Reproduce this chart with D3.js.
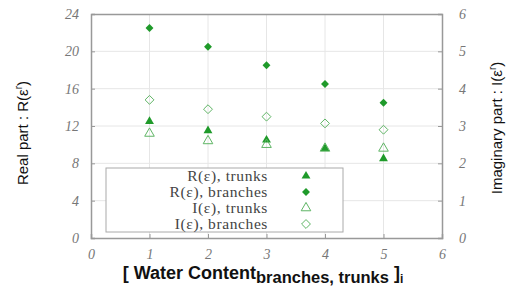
<!DOCTYPE html>
<html>
<head>
<meta charset="utf-8">
<script src="https://cdn.jsdelivr.net/npm/d3@7"></script>
<style>
  body { margin: 0; background: #fff; }
  .tick text { font-family: "Liberation Serif", serif; font-style: italic; fill: #777; font-size: 14px; }
  .title { font-family: "Liberation Sans", Arial, sans-serif; fill: #111; }
  .leg { font-family: "Liberation Serif", serif; font-size: 15.5px; letter-spacing: 0.6px; fill: #444; }
</style>
</head>
<body>
<script>
(function(){

    var water = [1, 2, 3, 4, 5];
    var realTrunks = [12.5, 11.5, 10.5, 9.6, 8.5];
    var realBranches = [22.5, 20.5, 18.5, 16.5, 14.5];
    var imagTrunks = [2.8, 2.6, 2.5, 2.4, 2.4];
    var imagBranches = [3.7, 3.45, 3.25, 3.07, 2.9];
    var xTicks = [0, 1, 2, 3, 4, 5, 6];
    var yLeftTicks = [0, 4, 8, 12, 16, 20, 24];
    var yRightTicks = [0, 1, 2, 3, 4, 5, 6];
    var legendLabels = ["R(\u03b5), trunks", "R(\u03b5), branches", "I(\u03b5), trunks", "I(\u03b5), branches"];

    var green = "#1f9a2a";
    var width = 521, height = 291;
    var margin = {left: 91, right: 79, top: 14, bottom: 53};

    var svg = d3.select("body").append("svg")
        .attr("width", width)
        .attr("height", height);

    var x = d3.scaleLinear().domain([0, 6]).range([margin.left, width - margin.right]);
    var yL = d3.scaleLinear().domain([0, 24]).range([height - margin.bottom, margin.top]);
    var yR = d3.scaleLinear().domain([0, 6]).range([height - margin.bottom, margin.top]);

    // grid
    svg.append("g").selectAll("line.gx")
        .data(xTicks.slice(1, -1))
        .enter().append("line")
        .attr("x1", d => x(d)).attr("x2", d => x(d))
        .attr("y1", yL(0)).attr("y2", yL(24))
        .attr("stroke", "#e6e6e6").attr("stroke-width", 1);
    svg.append("g").selectAll("line.gy")
        .data(yLeftTicks.slice(1, -1))
        .enter().append("line")
        .attr("x1", x(0)).attr("x2", x(6))
        .attr("y1", d => yL(d)).attr("y2", d => yL(d))
        .attr("stroke", "#e6e6e6").attr("stroke-width", 1);

    // axes
    var fmt = d3.format("d");
    var axB = svg.append("g")
        .attr("transform", `translate(0, ${yL(0)})`)
        .call(d3.axisBottom(x).tickValues(xTicks).tickFormat(fmt).tickSize(-4).tickPadding(9));
    var axL = svg.append("g")
        .attr("transform", `translate(${x(0)}, 0)`)
        .call(d3.axisLeft(yL).tickValues(yLeftTicks).tickFormat(fmt).tickSize(-4).tickPadding(12));
    var axR = svg.append("g")
        .attr("transform", `translate(${x(6)}, 0)`)
        .call(d3.axisRight(yR).tickValues(yRightTicks).tickFormat(fmt).tickSize(-4).tickPadding(17));
    var axT = svg.append("g")
        .attr("transform", `translate(0, ${yL(24)})`)
        .call(d3.axisTop(x).tickValues(xTicks).tickSize(0).tickFormat(""));
    [axB, axL, axR, axT].forEach(g => {
        g.select(".domain").attr("stroke", "#999").attr("stroke-width", 1.5);
        g.selectAll(".tick line").attr("stroke", "#999");
    });
    axB.selectAll(".tick text").attr("dy", "0.85em");

    // markers
    var triFill = d3.symbol().type(d3.symbolTriangle).size(34);
    var diaFill = d3.symbol().type(d3.symbolDiamond2).size(40);
    var triOpen = d3.symbol().type(d3.symbolTriangle).size(40);
    var diaOpen = d3.symbol().type(d3.symbolDiamond2).size(50);

    var series = [
        {vals: realTrunks, scale: yL, sym: triFill, fill: green, stroke: "none"},
        {vals: realBranches, scale: yL, sym: diaFill, fill: green, stroke: "none"},
        {vals: imagTrunks, scale: yR, sym: triOpen, fill: "none", stroke: "#5fb565"},
        {vals: imagBranches, scale: yR, sym: diaOpen, fill: "none", stroke: "#5fb565"}
    ];

    series.forEach(s => {
        svg.append("g").selectAll("path")
            .data(water)
            .enter().append("path")
            .attr("d", s.sym)
            .attr("transform", (d, i) => `translate(${x(d)}, ${s.scale(s.vals[i])})`)
            .attr("fill", s.fill)
            .attr("stroke", s.stroke)
            .attr("stroke-width", 1);
    });

    // legend
    var leg = svg.append("g");
    leg.append("rect")
        .attr("x", 106).attr("y", 168)
        .attr("width", 237).attr("height", 64)
        .attr("fill", "#fff").attr("stroke", "#aaa").attr("stroke-width", 1);
    legendLabels.forEach((lab, i) => {
        var yy = 176 + i * 16;
        leg.append("text")
            .attr("class", "leg")
            .attr("x", 268).attr("y", yy)
            .attr("dy", "0.35em")
            .attr("text-anchor", "end")
            .text(lab);
        leg.append("path")
            .attr("d", series[i].sym)
            .attr("transform", `translate(306, ${yy})`)
            .attr("fill", series[i].fill)
            .attr("stroke", series[i].stroke);
    });

    // titles
    var lt = svg.append("text")
        .attr("class", "title")
        .attr("transform", "translate(28, 133) rotate(-90)")
        .attr("text-anchor", "middle")
        .attr("font-size", 15)
        .attr("font-weight", 500);
    lt.append("tspan").text("Real part : R(\u03b5");
    lt.append("tspan").attr("dy", -6).attr("font-size", 10).text("r");
    lt.append("tspan").attr("dy", 6).text(")");

    var rt = svg.append("text")
        .attr("class", "title")
        .attr("transform", "translate(502, 128) rotate(-90)")
        .attr("text-anchor", "middle")
        .attr("font-size", 15);
    rt.append("tspan").text("Imaginary part : I(\u03b5");
    rt.append("tspan").attr("dy", -6).attr("font-size", 10).text("r");
    rt.append("tspan").attr("dy", 6).text(")");

    var xt = svg.append("text")
        .attr("class", "title")
        .attr("x", 263).attr("y", 279)
        .attr("text-anchor", "middle")
        .attr("font-size", 18)
        .attr("font-weight", "bold");
    xt.append("tspan").text("[ Water Content");
    xt.append("tspan").attr("dy", 4).attr("font-size", 16.5).text("branches, trunks");
    xt.append("tspan").attr("dy", -4).text(" ]");
    xt.append("tspan").attr("dy", 4).attr("font-size", 12).text("i");

})();
</script>
</body>
</html>
